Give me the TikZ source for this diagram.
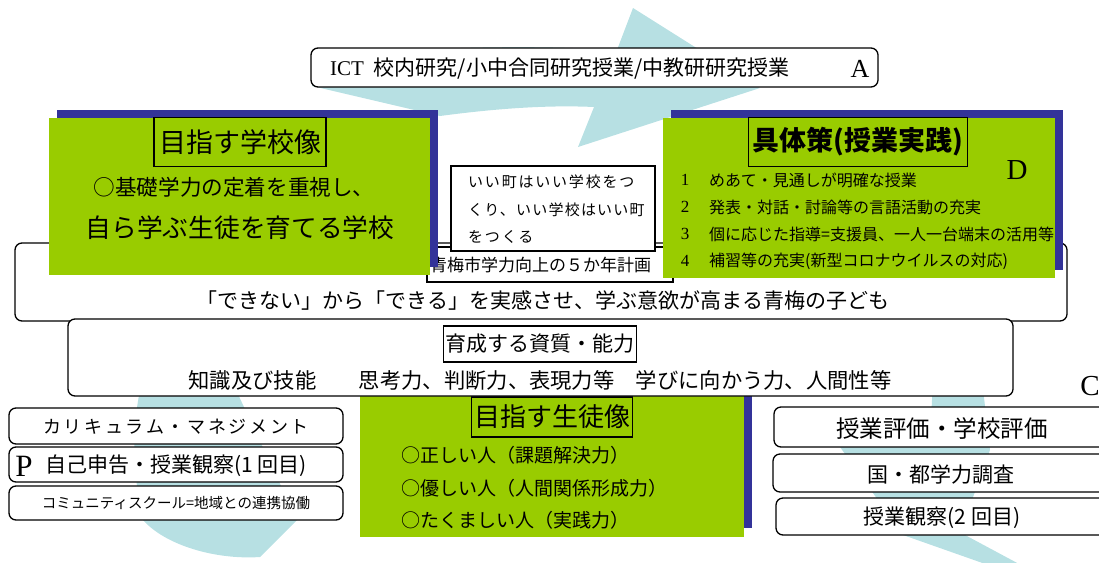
\documentclass[tikz,border=0pt]{standalone}
\usepackage{fontspec}
\setmainfont{Liberation Serif}
\newfontfamily\jp{Noto Sans CJK JP}
\definecolor{leaf}{HTML}{99CC00}
\definecolor{navyb}{HTML}{333399}
\definecolor{sky}{HTML}{B7E0E3}
\newcommand{\fs}[1]{\fontsize{#1}{#1}\selectfont}
\begin{document}
\begin{tikzpicture}[x=1pt,y=-1pt,
  rbox/.style={draw=black,line width=1.3pt,rounded corners=7pt,fill=white},
  sbox/.style={draw=black,line width=1.3pt,fill=white},
  titlebox/.style={draw=black,line width=1.5pt,inner sep=0pt},
  jt/.style={font={\jp\fs{#1}}, inner sep=0pt},
  lt/.style={font={\fs{#1}}, inner sep=0pt}]
\useasboundingbox (0,0) rectangle (1099,562);
\clip (0,0) rectangle (1099,562);
% background cycle arrows
\fill[sky] (312,86) -- (440,116) .. controls (500,108) and (550,105) .. (594,107) -- (578,147) -- (760,88) -- (633,8) -- (617,50) .. controls (520,44) and (400,48) .. (312,58) -- cycle;
\fill[sky] (933,380) -- (982,380) -- (990,450) -- (972,500) -- (965,535) -- (1034,572) -- (1008,572) -- (903,535) -- (840,447) -- (930,440) -- cycle;
\fill[sky] (140,390) -- (236,390) -- (297,520) -- (260,557) .. controls (215,560) and (165,545) .. (143,520) .. controls (132,470) and (132,430) .. (140,390) -- cycle;
% ICT box
\draw[rbox] (311,48) rectangle (878,87);
\node[lt=21, anchor=west] (ict) at (330,69) {ICT {\jp\fs{21} 校内研究/小中合同研究授業/中教研研究授業}};
\node[lt=26] (A) at (860,69) {A};
% big child box
\draw[rbox] (15,243) rectangle (1067,321);
\node[jt=21] (child) at (543,301) {「できない」から「できる」を実感させ、学ぶ意欲が高まる青梅の子ども};
% plan box
\draw[sbox] (427,247) rectangle (673,282);
\node[jt=17, anchor=west] (plan) at (430,265) {青梅市学力向上の５か年計画};
% school image
\fill[navyb] (57,110) rectangle (438,267);
\fill[leaf] (49,118) rectangle (430,275);
\node[titlebox, jt=27, minimum width=172, minimum height=49] (school) at (240,142) {目指す学校像};
\node[jt=21.6] (s1) at (234,187) {○基礎学力の定着を重視し、};
\node[jt=25.7] (s2) at (240,228) {自ら学ぶ生徒を育てる学校};
% measures
\fill[navyb] (671,110) rectangle (1063,270);
\fill[leaf] (663,118) rectangle (1055,278);
\node[titlebox, font={\jp\bfseries\fs{27}}, minimum width=219, minimum height=49] (measures) at (858,142) {具体策(授業実践)};
\node[lt=29] (D) at (1017,170) {D};
\node[lt=17] (n1) at (685,180) {1};
\node[lt=17] (n2) at (685,207) {2};
\node[lt=17] (n3) at (685,234) {3};
\node[lt=17] (n4) at (685,261) {4};
\node[jt=16, anchor=west] (i1) at (709,180) {めあて・見通しが明確な授業};
\node[jt=16, anchor=west] (i2) at (709,207) {発表・対話・討論等の言語活動の充実};
\node[jt=16, anchor=west] (i3) at (709,234) {個に応じた指導=支援員、一人一台端末の活用等};
\node[jt=16, anchor=west] (i4) at (709,261) {補習等の充実(新型コロナウイルスの対応)};
% motto box
\draw[sbox] (451,166) rectangle (655,251);
\node[font={\jp\addfontfeature{LetterSpace=12}\fs{15}}, inner sep=0pt, anchor=west] (m1) at (468,182) {いい町はいい学校をつ};
\node[font={\jp\addfontfeature{LetterSpace=8}\fs{15}}, inner sep=0pt, anchor=west] (m2) at (468,210) {くり、いい学校はいい町};
\node[font={\jp\addfontfeature{LetterSpace=12}\fs{15}}, inner sep=0pt, anchor=west] (m3) at (468,237) {をつくる};
% student image
\fill[navyb] (368,392) rectangle (752,528);
\fill[leaf] (360,392) rectangle (744,537);
\node[titlebox, jt=26, minimum width=161, minimum height=40] (student) at (552,417) {目指す生徒像};
\node[jt=19, anchor=west] (g1) at (401,455) {○正しい人（課題解決力）};
\node[jt=19, anchor=west] (g2) at (401,488) {○優しい人（人間関係形成力）};
\node[jt=19, anchor=west] (g3) at (401,520) {○たくましい人（実践力）};
% abilities box
\draw[rbox] (68,319) rectangle (1013,396);
\node[titlebox, jt=21, minimum width=193, minimum height=36] (ikusei) at (540,344) {育成する資質・能力};
\node[jt=21.3] (abil) at (540,380) {知識及び技能　　思考力、判断力、表現力等　学びに向かう力、人間性等};
% P boxes
\draw[rbox] (9,408) rectangle (343,444);
\node[font={\jp\addfontfeature{LetterSpace=15}\fs{18}}, inner sep=0pt] (cm) at (176,427) {カリキュラム・マネジメント};
\draw[rbox] (9,447) rectangle (343,482);
\node[lt=31] (P) at (24,466) {P};
\node[jt=21, anchor=west] (jiko) at (45,466) {自己申告・授業観察(1 回目)};
\draw[rbox] (9,486) rectangle (343,520);
\node[jt=14.5] (cs) at (176,503) {コミュニティスクール=地域との連携協働};
% C boxes
\node[lt=29] (C) at (1090,386) {C};
\draw[rbox] (774,407) rectangle (1115,447);
\node[jt=23.5] (eval) at (942,429) {授業評価・学校評価};
\draw[rbox] (773,454) rectangle (1115,492);
\node[jt=21] (survey) at (941,475) {国・都学力調査};
\draw[rbox] (776,498) rectangle (1115,535);
\node[jt=21] (obs) at (942,518) {授業観察(2 回目)};
\end{tikzpicture}
\end{document}
